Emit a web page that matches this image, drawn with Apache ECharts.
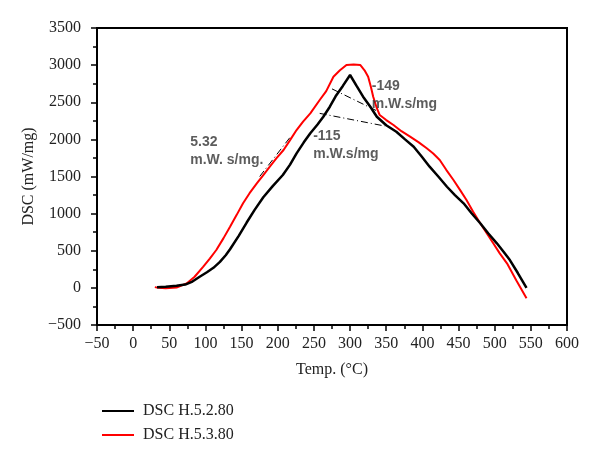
<!DOCTYPE html>
<html>
<head>
<meta charset="utf-8">
<title>DSC</title>
<script src="https://cdn.jsdelivr.net/npm/echarts@6/dist/echarts.min.js"></script>
<style>
  html, body { margin: 0; padding: 0; background: #fff; }
  #main { width: 600px; height: 460px; }
</style>
</head>
<body>
<div id="main"></div>
<script>
// DSC curves, [temp, dsc]
var h52 = [[33,10],[45,15],[60,28],[72,45],[82,85],[92,150],[102,210],[111,270],[120,350],[128,440],
    [134,520],[146,700],[157,880],[168,1050],[180,1220],[193,1370],[207,1520],[217,1660],[226,1812],
    [236,1960],[245,2082],[255,2200],[263,2305],[272,2440],[280,2580],[290,2720],[300,2867],[309,2720],
    [318,2575],[328,2440],[337,2305],[350,2190],[364,2103],[376,2000],[388,1901],[399,1770],[410,1632],
    [422,1500],[434,1362],[445,1250],[457,1139],[468,1005],[480,870],[491,735],[503,600],[512,490],
    [521,375],[532,200],[544,0]];
var h53 = [[30,10],[35,0],[45,-5],[60,5],[74,60],[85,150],[97,285],[106,395],[115,510],[125,670],
    [134,824],[143,980],[152,1139],[161,1275],[171,1408],[180,1520],[189,1632],[198,1745],[208,1857],
    [217,1990],[226,2126],[235,2240],[245,2351],[258,2530],[267,2650],[277,2844],[286,2930],[295,3002],
    [305,3010],[314,3002],[320,2930],[325,2844],[329,2700],[332,2575],[337,2420],[341,2328],[350,2260],
    [360,2194],[371,2110],[383,2036],[395,1960],[406,1880],[415,1810],[424,1722],[433,1590],[443,1453],
    [452,1320],[461,1183],[470,1030],[480,870],[489,735],[498,600],[507,465],[517,331],[530,100],[544,-141]];

// dash-dot baselines
var base1 = [[175,1500],[218,2040]];
var base2 = [[275,2680],[340,2370]];
var base3 = [[258,2350],[348,2180]];

// notes: [x, y, text] (top-left of the text block)
var notes = [[79,2086,'5.32\nm.W. s/mg.'],[330,2840,'-149\nm.W.s/mg'],[249,2167,'-115\nm.W.s/mg']];

var names = ['DSC H.5.2.80', 'DSC H.5.3.80'];

var serif = '"Liberation Serif", "DejaVu Serif", serif';
var dashDot = [7, 3, 1, 3];

var chart = echarts.init(document.getElementById('main'));

function baseLine(d){
    return {
        type: 'line',
        data: d,
        showSymbol: false,
        silent: true,
        lineStyle: {color: '#000', width: 1, type: dashDot},
        z: 1
    };
}

// plain numbers, real minus sign
function tickText(v){
    return String(v).replace('-', '\u2212');
}

var option = {
    animation: false,
    backgroundColor: '#fff',
    grid: {
        left: 97, right: 33, top: 28, bottom: 135,
        show: true, borderColor: '#000', borderWidth: 2
    },
    legend: {
        data: names,
        orient: 'vertical',
        left: 97,
        top: 398,
        itemWidth: 32,
        itemHeight: 2,
        itemGap: 8,
        icon: 'rect',
        textStyle: {fontFamily: serif, fontSize: 16, color: '#222', padding: [0,0,0,4]}
    },
    xAxis: {
        type: 'value',
        min: -50, max: 600, interval: 50,
        name: 'Temp. (°C)',
        nameLocation: 'middle',
        nameGap: 37,
        nameTextStyle: {fontFamily: serif, fontSize: 16, color: '#222'},
        axisLine: {onZero: false, lineStyle: {color: '#000', width: 2}},
        axisTick: {inside: false, length: 6, lineStyle: {color: '#000', width: 1.5}},
        minorTick: {show: true, splitNumber: 2, length: 4, lineStyle: {color: '#000', width: 1.5}},
        splitLine: {show: false},
        axisLabel: {fontFamily: serif, fontSize: 16, color: '#222', margin: 11, formatter: tickText}
    },
    yAxis: {
        type: 'value',
        min: -500, max: 3500, interval: 500,
        name: 'DSC (mW/mg)',
        nameLocation: 'middle',
        nameGap: 54,
        nameTextStyle: {fontFamily: serif, fontSize: 16, color: '#222'},
        axisLine: {onZero: false, lineStyle: {color: '#000', width: 2}},
        axisTick: {inside: false, length: 6, lineStyle: {color: '#000', width: 1.5}},
        minorTick: {show: true, splitNumber: 2, length: 4, lineStyle: {color: '#000', width: 1.5}},
        splitLine: {show: false},
        axisLabel: {fontFamily: serif, fontSize: 16, color: '#222', margin: 16, formatter: tickText}
    },
    series: [
        {
            name: names[0],
            type: 'line',
            data: h52,
            showSymbol: false,
            color: '#000',
            lineStyle: {color: '#000', width: 2.5},
            z: 3
        },
        {
            name: names[1],
            type: 'line',
            data: h53,
            showSymbol: false,
            color: '#ff0000',
            lineStyle: {color: '#ff0000', width: 2},
            z: 2
        },
        baseLine(base1),
        baseLine(base2),
        baseLine(base3),
        {
            type: 'scatter',
            data: notes,
            symbolSize: 0,
            silent: true,
            label: {
                show: true,
                position: 'inside',
                align: 'left',
                verticalAlign: 'top',
                formatter: function(p){ return p.data[2]; },
                fontFamily: '"Liberation Sans", Arial, sans-serif',
                fontSize: 14,
                fontWeight: 'bold',
                lineHeight: 18,
                color: '#333'
            },
            z: 5
        }
    ]
};

chart.setOption(option);
</script>
</body>
</html>
